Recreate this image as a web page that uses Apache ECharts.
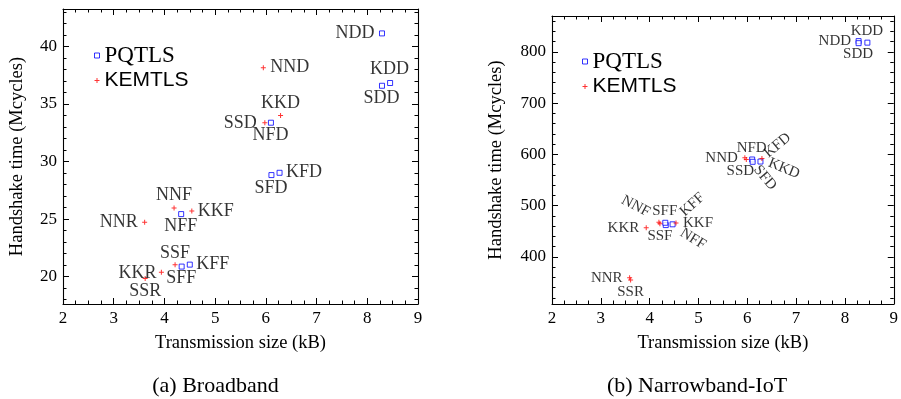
<!DOCTYPE html>
<html>
<head>
<meta charset="utf-8">
<script src="https://cdn.jsdelivr.net/npm/echarts@6/dist/echarts.min.js"></script>
<style>
  html, body { margin: 0; background: #fff; }
  #chart { width: 901px; height: 399px; }
</style>
</head>
<body>
<div id="chart"></div>
<script>
// ---- data ----
const pqNames = ["NDD", "KDD", "SDD", "NFD", "SFD", "KFD", "NFF", "SFF", "KFF"];
const kemNames = ["NND", "KKD", "SSD", "NNF", "KKF", "NNR", "SSF", "KKR", "SSR"];

// (a) Broadband
const bbPqSize = [8.29, 8.45, 8.29, 6.10, 6.11, 6.27, 4.33, 4.34, 4.50];
const bbPqTime = [41.13, 36.82, 36.58, 33.37, 28.82, 29.02, 25.43, 20.87, 21.04];
const bbKemSize = [5.95, 6.29, 5.98, 4.19, 4.54, 3.61, 4.21, 3.94, 3.62];
const bbKemTime = [38.15, 34.0, 33.37, 25.95, 25.71, 24.73, 21.04, 20.38, 19.83];

// (b) Narrowband-IoT
const nbPqSize = [8.28, 8.46, 8.28, 6.10, 6.11, 6.27, 4.33, 4.32, 4.47];
const nbPqTime = [821, 818, 817, 590, 585.5, 586, 462, 466.5, 463.5];
const nbKemSize = [5.95, 6.30, 5.98, 4.19, 4.54, 3.59, 4.21, 3.93, 3.61];
const nbKemTime = [593.5, 592, 590, 467.5, 466.3, 359, 464.5, 456.6, 354.6];

// tick labels
const bbYTicks = [20, 25, 30, 35, 40];
const bbYMinor = [18, 19, 21, 22, 23, 24, 26, 27, 28, 29, 31, 32, 33, 34, 36, 37, 38, 39, 41, 42, 43];
const nbYTicks = [400, 500, 600, 700, 800];
const nbYMinor = [320, 340, 360, 380, 420, 440, 460, 480, 520, 540, 560, 580, 620, 640, 660, 680, 720, 740, 760, 780, 820, 840, 860];

// ---- label placement (align, vAlign, dx, dy, rotate) ----
const bbPlace = {
  NDD: ["right", "middle", -7, 0, 0], KDD: ["center", "middle", 0, -13, 0],
  SDD: ["center", "middle", 0, 13, 0], NFD: ["center", "middle", 0, 13, 0],
  SFD: ["center", "middle", 0, 14, 0], KFD: ["left", "middle", 7, 0, 0],
  NFF: ["center", "middle", 0, 13, 0], SFF: ["center", "middle", 0, 12.5, 0],
  KFF: ["left", "middle", 7, 0, 0], NND: ["left", "middle", 7, 0, 0],
  KKD: ["center", "middle", 0, -12.5, 0], SSD: ["right", "middle", -8, 1, 0],
  NNF: ["center", "middle", 0, -12.5, 0], KKF: ["left", "middle", 6, 0, 0],
  NNR: ["right", "middle", -7, 0, 0], SSF: ["center", "middle", 0, -11.5, 0],
  KKR: ["right", "middle", -5, 1, 0], SSR: ["center", "middle", 0, 13, 0]
};
const nbPlace = {
  NDD: ["right", "middle", -7, 0, 0], KDD: ["center", "middle", 0, -11, 0],
  SDD: ["center", "middle", 0, 11.5, 0], NFD: ["center", "middle", 0, -11, 0],
  SFD: ["left", "middle", 4, 6, -50], KFD: ["left", "middle", 6, -6, 40],
  NFF: ["left", "middle", 16, 7, -32], SFF: ["center", "middle", 0, -11.5, 0],
  KFF: ["left", "middle", 10, -10, 42], NND: ["right", "middle", -7, 0, 0],
  KKD: ["left", "middle", 7, 4, -22], SSD: ["center", "middle", -6, 12, 0],
  NNF: ["right", "middle", -10, -9, -28], KKF: ["left", "middle", 7, 0, 0],
  NNR: ["right", "middle", -7, 0, 0], SSF: ["center", "middle", 0, 12.5, 0],
  KKR: ["right", "middle", -7, 0, 0], SSR: ["center", "middle", 0, 12, 0]
};

const SERIF = "'Liberation Serif', 'DejaVu Serif', serif";
const SANS = "'Liberation Sans', 'DejaVu Sans', sans-serif";
const CROSS = "path://M2,0H3V2H5V3H3V5H2V3H0V2H2Z";
const SYM = 5;

const chart = echarts.init(document.getElementById("chart"), null, { renderer: "canvas" });

const toData = (names, xs, ys, place, fontSize) =>
  names.map((n, i) => {
    const p = place[n];
    return {
      name: n,
      value: [xs[i], ys[i]],
      label: {
        position: [SYM / 2 + p[2], SYM / 2 + p[3]],
        align: p[0],
        verticalAlign: p[1],
        rotate: p[4],
        fontSize: fontSize
      }
    };
  });

const xAxisBase = (gridIndex, position, showLabel) => ({
  type: "value",
  gridIndex: gridIndex,
  position: position,
  min: 2,
  max: 9,
  interval: 1,
  axisLine: { onZero: false, lineStyle: { color: "#000", width: 1.1 } },
  axisTick: { inside: true, length: 6, lineStyle: { color: "#000" } },
  minorTick: { show: true, splitNumber: 4, length: 3.5, lineStyle: { color: "#000" } },
  splitLine: { show: false },
  axisLabel: { show: showLabel, margin: 6, color: "#000", fontFamily: SERIF, fontSize: 17 },
  name: showLabel ? "Transmission size (kB)" : "",
  nameLocation: "middle",
  nameGap: 30,
  nameTextStyle: { color: "#000", fontFamily: SERIF, fontSize: 18.5 }
});

const yAxisBase = (gridIndex, position, min, max, values, major, showLabel, nameGap) => ({
  type: "value",
  gridIndex: gridIndex,
  position: position,
  min: min,
  max: max,
  axisLine: { show: major, onZero: false, lineStyle: { color: "#000", width: 1.1 } },
  axisTick: { inside: true, length: major ? 6 : 3.5, customValues: values, lineStyle: { color: "#000" } },
  splitLine: { show: false },
  axisLabel: { show: showLabel, customValues: values, margin: 6, color: "#000", fontFamily: SERIF, fontSize: 17 },
  name: showLabel ? "Handshake time (Mcycles)" : "",
  nameLocation: "middle",
  nameGap: nameGap,
  nameTextStyle: { color: "#000", fontFamily: SERIF, fontSize: 18.5 }
});

const legendBase = (left, top) => ({
  data: [{ name: "PQTLS", itemStyle: { borderWidth: 1 } }, { name: "KEMTLS" }],
  orient: "vertical",
  left: left,
  top: top,
  itemWidth: 5,
  itemHeight: 5,
  itemGap: 3,
  selectedMode: false,
  formatter: (name) => (name === "PQTLS" ? "{a|" + name + "}" : "{b|" + name + "}"),
  textStyle: {
    color: "#000",
    rich: {
      a: { fontFamily: SERIF, fontSize: 23, lineHeight: 26, color: "#000" },
      b: { fontFamily: SANS, fontSize: 21, lineHeight: 26, color: "#000" }
    }
  }
});

const pqSeries = (xi, yi, data) => ({
  name: "PQTLS",
  type: "scatter",
  xAxisIndex: xi,
  yAxisIndex: yi,
  symbol: "rect",
  symbolSize: SYM,
  itemStyle: { color: "#fff", borderColor: "#0000ff", borderWidth: 1 },
  label: { show: true, formatter: "{b}", color: "#000", fontFamily: SERIF },
  data: data
});

const kemSeries = (xi, yi, data) => ({
  name: "KEMTLS",
  type: "scatter",
  xAxisIndex: xi,
  yAxisIndex: yi,
  symbol: CROSS,
  symbolSize: SYM,
  itemStyle: { color: "#ff0000" },
  label: { show: true, formatter: "{b}", color: "#000", fontFamily: SERIF },
  data: data
});

chart.setOption({
  animation: false,
  backgroundColor: "#fff",
  grid: [
    { left: 63, top: 9, width: 355, height: 295 },
    { left: 552, top: 16, width: 347, height: 288 }
  ],
  xAxis: [
    xAxisBase(0, "bottom", true),
    xAxisBase(0, "top", false),
    xAxisBase(1, "bottom", true),
    xAxisBase(1, "top", false)
  ],
  yAxis: [
    yAxisBase(0, "left", 17.62, 43.25, bbYTicks, true, true, 36),
    yAxisBase(0, "left", 17.62, 43.25, bbYMinor, false, false, 0),
    yAxisBase(0, "right", 17.62, 43.25, bbYTicks, true, false, 0),
    yAxisBase(0, "right", 17.62, 43.25, bbYMinor, false, false, 0),
    yAxisBase(1, "left", 308, 870, nbYTicks, true, true, 46),
    yAxisBase(1, "left", 308, 870, nbYMinor, false, false, 0),
    yAxisBase(1, "right", 308, 870, nbYTicks, true, false, 0),
    yAxisBase(1, "right", 308, 870, nbYMinor, false, false, 0)
  ],
  legend: [legendBase(89, 39), legendBase(577, 45)],
  series: [
    pqSeries(0, 0, toData(pqNames, bbPqSize, bbPqTime, bbPlace, 18)),
    kemSeries(0, 0, toData(kemNames, bbKemSize, bbKemTime, bbPlace, 18)),
    pqSeries(2, 4, toData(pqNames, nbPqSize, nbPqTime, nbPlace, 15)),
    kemSeries(2, 4, toData(kemNames, nbKemSize, nbKemTime, nbPlace, 15))
  ],
  graphic: [
    { type: "text", x: 215.5, y: 386, style: { text: "(a) Broadband", align: "center", verticalAlign: "middle", font: "22px " + SERIF, fill: "#000" } },
    { type: "text", x: 697, y: 386, style: { text: "(b) Narrowband-IoT", align: "center", verticalAlign: "middle", font: "22px " + SERIF, fill: "#000" } }
  ]
});
</script>
</body>
</html>
